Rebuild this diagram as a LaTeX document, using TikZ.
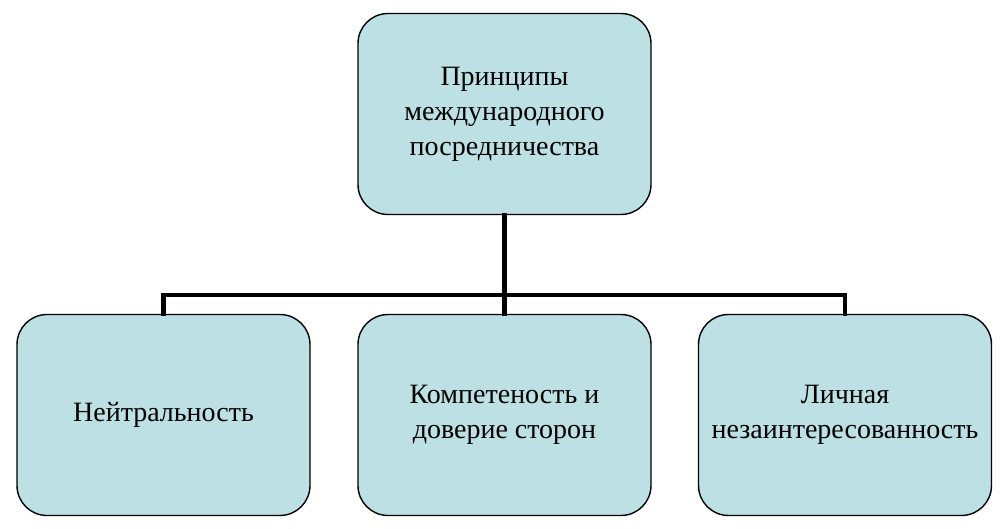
\documentclass[tikz,border=0pt]{standalone}
\usepackage{fontspec}
\setmainfont{Liberation Serif}
\newfontfamily\boxfont{Liberation Serif}
\begin{document}
\begin{tikzpicture}[x=1pt,y=1pt,
  box/.style={draw=black, line width=1.4pt, fill=boxfill, rounded corners=30pt,
    minimum width=293pt, minimum height=201pt, align=center, inner sep=0pt,
    font=\boxfont\fontsize{28}{35}\selectfont},
  conn/.style={line width=4.5pt, line cap=rect}]
\definecolor{boxfill}{HTML}{BCE0E3}
\useasboundingbox (0,0) rectangle (1004,528);
\node[box] (top) at (504.5,414) {Принципы\\международного\\посредничества};
\node[box] (left) at (163.5,113) {Нейтральность};
\node[box] (mid) at (504.5,113) {Компетеность и\\доверие сторон};
\node[box] (right) at (845,113) {Личная\\незаинтересованность};
\coordinate (j) at (504.5,233);
\draw[conn] (top.south) -- (j);
\draw[conn] (left.north) -- (left.north |- j) -- (right.north |- j) -- (right.north);
\draw[conn] (j) -- (mid.north);
\end{tikzpicture}
\end{document}
